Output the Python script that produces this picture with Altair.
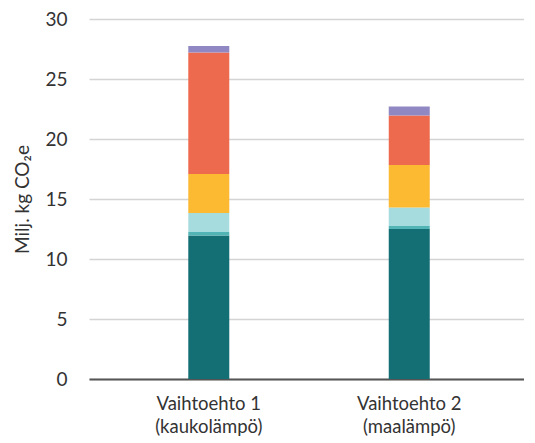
import altair as alt
import pandas as pd

categories = ["Vaihtoehto 1|(kaukolämpö)", "Vaihtoehto 2|(maalämpö)"]
components = ["Osa 1", "Osa 2", "Osa 3", "Osa 4", "Osa 5", "Osa 6"]
values_v1 = [11.95, 0.3, 1.58, 3.25, 10.12, 0.55]
values_v2 = [12.5, 0.25, 1.55, 3.53, 4.12, 0.75]
colors = ["#136f73", "#52b4b5", "#a7dcdf", "#fcb932", "#ed6a4e", "#8f88c2"]

rows = []
for cat, vals in zip(categories, [values_v1, values_v2]):
    for i, (comp, v) in enumerate(zip(components, vals)):
        rows.append({"cat": cat, "comp": comp, "order": i, "value": v})
df = pd.DataFrame(rows)

FONT = "Lato"

chart = alt.Chart(df).mark_bar(size=41).encode(
    x=alt.X("cat:N", sort=categories, title=None,
            scale=alt.Scale(paddingInner=0.795, paddingOuter=0.4825, align=0.513),
            axis=alt.Axis(labelExpr="split(datum.label, '|')", labelAngle=0,
                          labelFontSize=18.5, labelColor="#333333", labelFont=FONT,
                          labelPadding=15, labelLineHeight=23, ticks=False,
                          domainColor="#555555", domainWidth=2)),
    y=alt.Y("value:Q", stack="zero", title="Milj. kg CO₂e",
            scale=alt.Scale(domain=[0, 30]),
            axis=alt.Axis(values=[0, 5, 10, 15, 20, 25, 30], ticks=False, domain=False,
                          labelFontSize=19, labelColor="#333333", labelFont=FONT,
                          labelPadding=22, gridColor="#d4d4d4", gridWidth=1.5,
                          titleFont=FONT, titleFontSize=19, titleFontWeight="normal",
                          titleColor="#333333", titlePadding=12)),
    color=alt.Color("comp:N", sort=components,
                    scale=alt.Scale(domain=components, range=colors), legend=None),
    order=alt.Order("order:Q", sort="ascending"),
).properties(
    width=435, height=360,
    padding={"left": 5, "top": 2, "right": 0, "bottom": 0},
).configure_view(stroke=None)

chart.save("out.html", embed_options={"renderer": "svg", "actions": False})
